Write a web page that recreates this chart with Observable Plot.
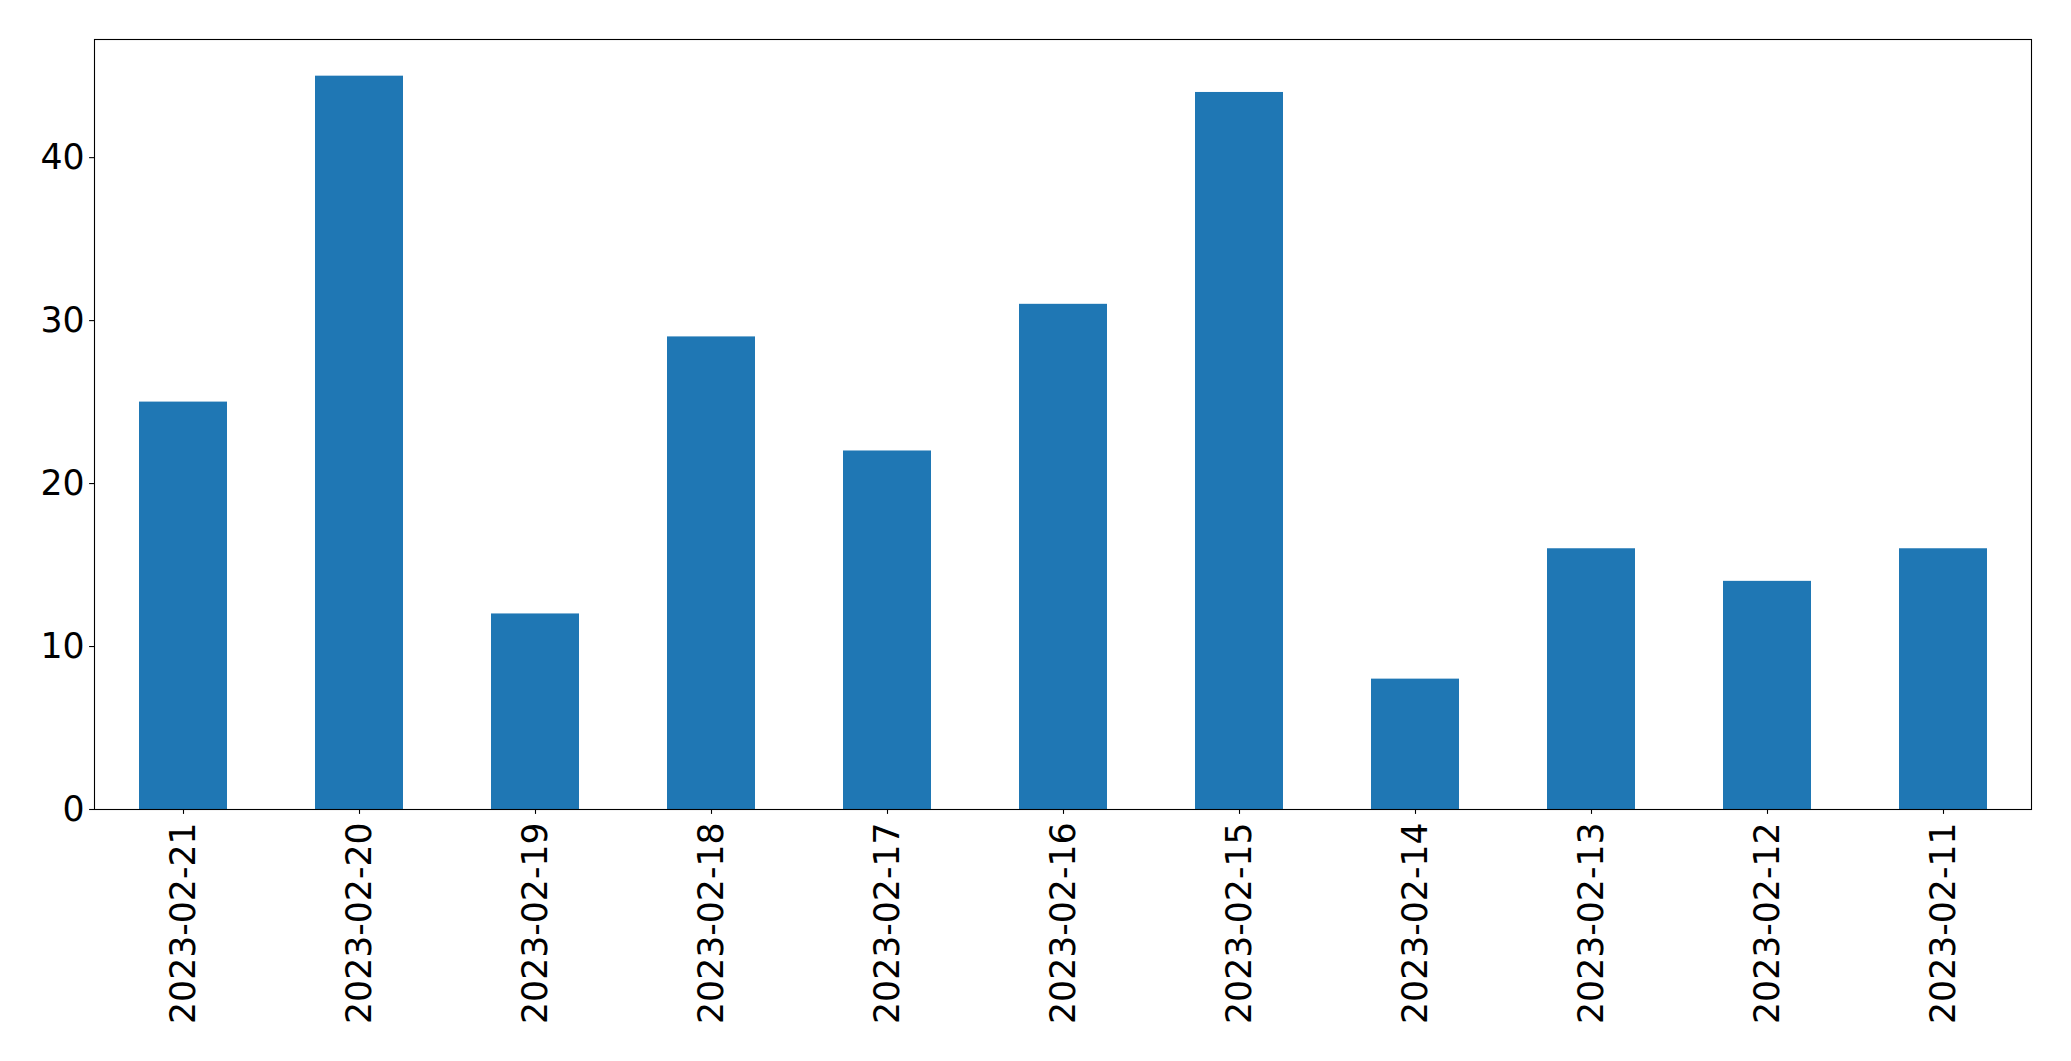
<!DOCTYPE html>
<html>
<head>
<meta charset="utf-8">
<script src="https://cdn.jsdelivr.net/npm/d3@7"></script>
<script src="https://cdn.jsdelivr.net/npm/@observablehq/plot@0.6"></script>
<style>
  html, body { margin: 0; padding: 0; background: #fff; }
  #chart svg { display: block; }
</style>
</head>
<body>
<div id="chart"></div>
<script>
const dates = ["2023-02-21","2023-02-20","2023-02-19","2023-02-18","2023-02-17","2023-02-16","2023-02-15","2023-02-14","2023-02-13","2023-02-12","2023-02-11"];
const counts = [25, 45, 12, 29, 22, 31, 44, 8, 16, 14, 16];
const yTicks = [0, 10, 20, 30, 40];

const data = dates.map((d, i) => ({date: d, count: counts[i]}));

const chart = Plot.plot({
  width: 2071,
  height: 1061,
  marginLeft: 94,
  marginRight: 40,
  marginTop: 39,
  marginBottom: 252,
  style: {fontFamily: "DejaVu Sans", fontSize: "34.7px", color: "#000", background: "#fff"},
  x: {domain: dates, paddingInner: 0.5, paddingOuter: 0.25, label: null},
  y: {domain: [0, 47.25], label: null},
  marks: [
    Plot.barY(data, {x: "date", y: "count", fill: "#1f77b4"}),
    Plot.axisY({ticks: yTicks, tickSize: 4.9, tickPadding: 5, label: null, fontSize: 34.7, strokeWidth: 1.1}),
    Plot.axisX({tickSize: 4.9, tickPadding: 8, tickRotate: -90, label: null, fontSize: 34.7, strokeWidth: 1.1}),
    Plot.frame({stroke: "#000", strokeWidth: 1.1})
  ]
});
document.getElementById("chart").appendChild(chart);
</script>
</body>
</html>
